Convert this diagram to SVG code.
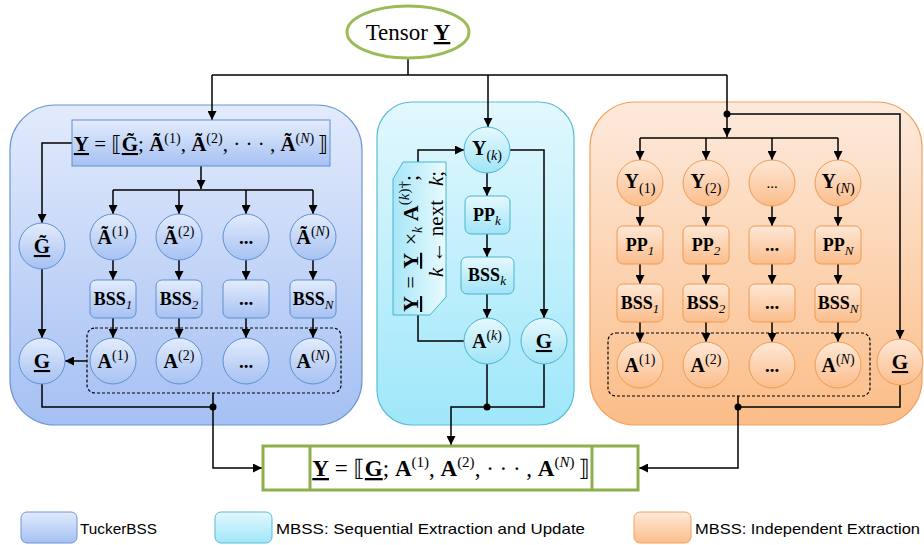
<svg xmlns="http://www.w3.org/2000/svg" width="924" height="545" viewBox="0 0 924 545">
<defs>
<linearGradient id="gTb" x1="0" y1="0" x2="0" y2="1"><stop offset="0" stop-color="#e2ebfc"/><stop offset="1" stop-color="#a5c0f3"/></linearGradient>
<linearGradient id="gTn" x1="0" y1="0" x2="0" y2="1"><stop offset="0" stop-color="#e3ecfc"/><stop offset="1" stop-color="#a6c1f3"/></linearGradient>
<linearGradient id="gCb" x1="0" y1="0" x2="0" y2="1"><stop offset="0" stop-color="#e2f8fe"/><stop offset="1" stop-color="#9fe7fa"/></linearGradient>
<linearGradient id="gCn" x1="0" y1="0" x2="0" y2="1"><stop offset="0" stop-color="#e6f9fe"/><stop offset="1" stop-color="#a0e4f7"/></linearGradient>
<linearGradient id="gCs" x1="0" y1="0" x2="1" y2="0"><stop offset="0" stop-color="#a6e6f8"/><stop offset="1" stop-color="#eafbfe"/></linearGradient>
<linearGradient id="gOb" x1="0" y1="0" x2="0" y2="1"><stop offset="0" stop-color="#fdeadc"/><stop offset="1" stop-color="#fbbd88"/></linearGradient>
<linearGradient id="gOn" x1="0" y1="0" x2="0" y2="1"><stop offset="0" stop-color="#fee8d7"/><stop offset="1" stop-color="#fbbd8b"/></linearGradient>
<marker id="ah" viewBox="0 0 10 10" refX="10" refY="5" markerWidth="9" markerHeight="9" markerUnits="userSpaceOnUse" orient="auto"><path d="M0,0 L10,5 L0,10 z" fill="#000"/></marker>
</defs>
<style>
.ln{fill:none;stroke:#000;stroke-width:1.5}
.ar{marker-end:url(#ah)}
.tn{fill:url(#gTn);stroke:#5f8fd2;stroke-width:1}
.cn{fill:url(#gCn);stroke:#48b4d0;stroke-width:1}
.on{fill:url(#gOn);stroke:#f09a52;stroke-width:1}
.dash{fill:none;stroke:#000;stroke-width:1.2;stroke-dasharray:3,2}
text{font-family:"Liberation Serif","DejaVu Serif",serif;fill:#000}
.t{text-anchor:middle}
.b{font-weight:bold}
.i{font-style:italic}
.u{text-decoration:underline}
.br{font-family:"DejaVu Sans","Noto Sans",sans-serif;font-weight:normal}
.lg{font-family:"Liberation Sans","DejaVu Sans",sans-serif;font-size:15px}
.dot{fill:#000}
</style>
<rect width="924" height="545" fill="#fff"/>

<g id="tucker-region">
<rect x="10" y="105" width="352" height="320" rx="45" fill="url(#gTb)" stroke="#6f96d2" stroke-width="1.2"/>
</g>
<g id="sequential-region">
<rect x="377" y="102" width="197" height="323" rx="35" fill="url(#gCb)" stroke="#5bbbd5" stroke-width="1.2"/>
</g>
<g id="independent-region">
<rect x="590" y="102" width="332" height="323" rx="45" fill="url(#gOb)" stroke="#f5a15c" stroke-width="1.2"/>
</g>

<g id="connectors">
<path class="ln" d="M408,58 V75 M212,75 H727"/>
<path class="ln ar" d="M212,75 V120"/>
<path class="ln ar" d="M488,75 V127"/>
<path class="ln ar" d="M727,75 V137"/>
<path class="ln ar" d="M727,114 H900 V339"/>
<circle class="dot" cx="727" cy="114" r="3.5"/>
<path class="ln ar" d="M72,143 H42 V223"/>
<path class="ln ar" d="M201,166 V189"/>
<path class="ln" d="M113,190 H313"/>
<path class="ln ar" d="M113,190 V214"/>
<path class="ln ar" d="M179,190 V214"/>
<path class="ln ar" d="M246,190 V214"/>
<path class="ln ar" d="M313,190 V214"/>
<path class="ln ar" d="M113,260 V280"/>
<path class="ln ar" d="M179,260 V280"/>
<path class="ln ar" d="M246,260 V280"/>
<path class="ln ar" d="M313,260 V280"/>
<path class="ln ar" d="M113,318 V338"/>
<path class="ln ar" d="M179,318 V338"/>
<path class="ln ar" d="M246,318 V338"/>
<path class="ln ar" d="M313,318 V338"/>
<path class="ln ar" d="M42,269 V338"/>
<path class="ln ar" d="M87,361 H65"/>
<path class="ln" d="M42,384 V407 H213"/>
<path class="ln ar" d="M213,393 V468 H262"/>
<circle class="dot" cx="213" cy="407" r="3.5"/>
<path class="ln ar" d="M487,173 V196"/>
<path class="ln ar" d="M487,234 V257"/>
<path class="ln ar" d="M487,294 V318"/>
<path class="ln ar" d="M510,150 H544 V318"/>
<path class="ln" d="M464,341 H418 V315"/>
<path class="ln ar" d="M418,162 V150 H464"/>
<path class="ln" d="M487,364 V407 M544,364 V407 H487"/>
<path class="ln ar" d="M487,407 H451 V445"/>
<circle class="dot" cx="487" cy="407" r="3.5"/>
<path class="ln" d="M640,138 H838"/>
<path class="ln ar" d="M640,138 V160"/>
<path class="ln ar" d="M706,138 V160"/>
<path class="ln ar" d="M772,138 V160"/>
<path class="ln ar" d="M838,138 V160"/>
<path class="ln ar" d="M640,206 V226"/>
<path class="ln ar" d="M706,206 V226"/>
<path class="ln ar" d="M772,206 V226"/>
<path class="ln ar" d="M838,206 V226"/>
<path class="ln ar" d="M640,264 V284"/>
<path class="ln ar" d="M706,264 V284"/>
<path class="ln ar" d="M772,264 V284"/>
<path class="ln ar" d="M838,264 V284"/>
<path class="ln ar" d="M640,322 V342"/>
<path class="ln ar" d="M706,322 V342"/>
<path class="ln ar" d="M772,322 V342"/>
<path class="ln ar" d="M838,322 V342"/>
<path class="ln" d="M900,385 V407 H738"/>
<path class="ln ar" d="M738,396 V468 H639"/>
<circle class="dot" cx="738" cy="407" r="3.5"/>
</g>

<g id="tensor-Y">
<ellipse cx="408" cy="32" rx="61" ry="26" fill="#fff" stroke="#9bbb59" stroke-width="3"/>
<text class="t" x="408" y="40" font-size="23">Tensor <tspan class="b u">Y</tspan></text>
</g>

<g id="t-formula">
<rect class="tn" x="72" y="120" width="258" height="46"/>
<text class="t" x="201" y="151" font-size="21"><tspan class="b u">Y</tspan><tspan> = </tspan><tspan class="br">⟦</tspan><tspan class="b u">G̃</tspan><tspan>; </tspan><tspan class="b">Ã</tspan><tspan font-size="14" dy="-8">(1)</tspan><tspan dy="8">, </tspan><tspan class="b">Ã</tspan><tspan font-size="14" dy="-8">(2)</tspan><tspan dy="8">, · · · , </tspan><tspan class="b">Ã</tspan><tspan font-size="14" dy="-8">(<tspan class="i">N</tspan>) </tspan><tspan class="br" dy="8">⟧</tspan></text>
</g>
<g id="t-Gtilde"><circle class="tn" cx="42" cy="246" r="23"/><text class="t b u" x="42" y="253" font-size="21">G̃</text></g>
<g id="t-A1t"><circle class="tn" cx="113" cy="237" r="23"/><text class="t" x="113" y="244" font-size="20"><tspan class="b">Ã</tspan><tspan font-size="14" dy="-8">(1)</tspan></text></g>
<g id="t-A2t"><circle class="tn" cx="179" cy="237" r="23"/><text class="t" x="179" y="244" font-size="20"><tspan class="b">Ã</tspan><tspan font-size="14" dy="-8">(2)</tspan></text></g>
<g id="t-Adt"><circle class="tn" cx="246" cy="237" r="23"/><text class="t b" x="246" y="244" font-size="19">...</text></g>
<g id="t-ANt"><circle class="tn" cx="313" cy="237" r="23"/><text class="t" x="313" y="244" font-size="20"><tspan class="b">Ã</tspan><tspan font-size="14" dy="-8">(<tspan class="i">N</tspan>)</tspan></text></g>
<g id="t-BSS1"><rect class="tn" x="90" y="280" width="46" height="38" rx="6"/><text class="t" x="113" y="305" font-size="18"><tspan class="b">BSS</tspan><tspan class="i" font-size="13" dy="4">1</tspan></text></g>
<g id="t-BSS2"><rect class="tn" x="156" y="280" width="46" height="38" rx="6"/><text class="t" x="179" y="305" font-size="18"><tspan class="b">BSS</tspan><tspan class="i" font-size="13" dy="4">2</tspan></text></g>
<g id="t-BSSd"><rect class="tn" x="223" y="280" width="46" height="38" rx="6"/><text class="t b" x="246" y="305" font-size="19">...</text></g>
<g id="t-BSSN"><rect class="tn" x="290" y="280" width="46" height="38" rx="6"/><text class="t" x="313" y="305" font-size="18"><tspan class="b">BSS</tspan><tspan class="i" font-size="13" dy="4">N</tspan></text></g>
<g id="t-Agroup"><rect class="dash" x="87" y="328" width="254" height="65" rx="8"/></g>
<g id="t-A1"><circle class="tn" cx="113" cy="361" r="23"/><text class="t" x="113" y="368" font-size="20"><tspan class="b">A</tspan><tspan font-size="14" dy="-8">(1)</tspan></text></g>
<g id="t-A2"><circle class="tn" cx="179" cy="361" r="23"/><text class="t" x="179" y="368" font-size="20"><tspan class="b">A</tspan><tspan font-size="14" dy="-8">(2)</tspan></text></g>
<g id="t-Ad"><circle class="tn" cx="246" cy="361" r="23"/><text class="t b" x="246" y="368" font-size="19">...</text></g>
<g id="t-AN"><circle class="tn" cx="313" cy="361" r="23"/><text class="t" x="313" y="368" font-size="20"><tspan class="b">A</tspan><tspan font-size="14" dy="-8">(<tspan class="i">N</tspan>)</tspan></text></g>
<g id="t-G"><circle class="tn" cx="42" cy="361" r="23"/><text class="t b u" x="42" y="368" font-size="21">G</text></g>

<g id="m-Yk"><circle class="cn" cx="487" cy="150" r="23"/><text class="t" x="487" y="155" font-size="20"><tspan class="b">Y</tspan><tspan font-size="14" dy="5">(<tspan class="i">k</tspan>)</tspan></text></g>
<g id="m-PPk"><rect class="cn" x="465" y="196" width="45" height="38" rx="6"/><text class="t" x="487" y="221" font-size="18"><tspan class="b">PP</tspan><tspan class="i" font-size="13" dy="4">k</tspan></text></g>
<g id="m-BSSk"><rect class="cn" x="461" y="257" width="53" height="37" rx="6"/><text class="t" x="487" y="281" font-size="18"><tspan class="b">BSS</tspan><tspan class="i" font-size="13" dy="4">k</tspan></text></g>
<g id="m-Ak"><circle class="cn" cx="487" cy="341" r="23"/><text class="t" x="487" y="348" font-size="20"><tspan class="b">A</tspan><tspan font-size="14" dy="-8">(<tspan class="i">k</tspan>)</tspan></text></g>
<g id="m-G"><circle class="cn" cx="544" cy="341" r="23"/><text class="t b u" x="544" y="348" font-size="21">G</text></g>
<g id="m-update">
<polygon points="393,179 403,162 446,162 446,297 430,315 393,315" fill="url(#gCs)" stroke="#48b4d0" stroke-width="1"/>
<text transform="translate(418,312) rotate(-90)" font-size="22"><tspan class="b u">Y</tspan><tspan dx="2"> = </tspan><tspan class="b u" dx="2">Y</tspan><tspan dx="2"> ×</tspan><tspan class="i" font-size="14" dy="4">k</tspan><tspan dy="-4"> </tspan><tspan class="b">A</tspan><tspan font-size="15" dy="-9">(<tspan class="i">k</tspan>)†</tspan><tspan dy="9">;</tspan></text>
<text transform="translate(443,277) rotate(-90)" font-size="21"><tspan class="i">k</tspan><tspan> ← next</tspan><tspan class="i" dx="14">k</tspan><tspan>;</tspan></text>
</g>

<g id="o-Y1"><circle class="on" cx="640" cy="183" r="23"/><text class="t" x="640" y="188" font-size="20"><tspan class="b">Y</tspan><tspan font-size="14" dy="5">(1)</tspan></text></g>
<g id="o-Y2"><circle class="on" cx="706" cy="183" r="23"/><text class="t" x="706" y="188" font-size="20"><tspan class="b">Y</tspan><tspan font-size="14" dy="5">(2)</tspan></text></g>
<g id="o-Yd"><circle class="on" cx="772" cy="183" r="23"/><text class="t" x="772" y="188" font-size="15">...</text></g>
<g id="o-YN"><circle class="on" cx="838" cy="183" r="23"/><text class="t" x="838" y="188" font-size="20"><tspan class="b">Y</tspan><tspan font-size="14" dy="5">(<tspan class="i">N</tspan>)</tspan></text></g>
<g id="o-PP1"><rect class="on" x="617" y="226" width="46" height="38" rx="6"/><text class="t" x="640" y="251" font-size="18"><tspan class="b">PP</tspan><tspan class="i" font-size="13" dy="4">1</tspan></text></g>
<g id="o-PP2"><rect class="on" x="683" y="226" width="46" height="38" rx="6"/><text class="t" x="706" y="251" font-size="18"><tspan class="b">PP</tspan><tspan class="i" font-size="13" dy="4">2</tspan></text></g>
<g id="o-PPd"><rect class="on" x="749" y="226" width="46" height="38" rx="6"/><text class="t b" x="772" y="251" font-size="19">...</text></g>
<g id="o-PPN"><rect class="on" x="815" y="226" width="46" height="38" rx="6"/><text class="t" x="838" y="251" font-size="18"><tspan class="b">PP</tspan><tspan class="i" font-size="13" dy="4">N</tspan></text></g>
<g id="o-BSS1"><rect class="on" x="617" y="284" width="46" height="38" rx="6"/><text class="t" x="640" y="309" font-size="18"><tspan class="b">BSS</tspan><tspan class="i" font-size="13" dy="4">1</tspan></text></g>
<g id="o-BSS2"><rect class="on" x="683" y="284" width="46" height="38" rx="6"/><text class="t" x="706" y="309" font-size="18"><tspan class="b">BSS</tspan><tspan class="i" font-size="13" dy="4">2</tspan></text></g>
<g id="o-BSSd"><rect class="on" x="749" y="284" width="46" height="38" rx="6"/><text class="t b" x="772" y="309" font-size="19">...</text></g>
<g id="o-BSSN"><rect class="on" x="815" y="284" width="46" height="38" rx="6"/><text class="t" x="838" y="309" font-size="18"><tspan class="b">BSS</tspan><tspan class="i" font-size="13" dy="4">N</tspan></text></g>
<g id="o-Agroup"><rect class="dash" x="608" y="333" width="262" height="63" rx="8"/></g>
<g id="o-A1"><circle class="on" cx="640" cy="365" r="23"/><text class="t" x="640" y="372" font-size="20"><tspan class="b">A</tspan><tspan font-size="14" dy="-8">(1)</tspan></text></g>
<g id="o-A2"><circle class="on" cx="706" cy="365" r="23"/><text class="t" x="706" y="372" font-size="20"><tspan class="b">A</tspan><tspan font-size="14" dy="-8">(2)</tspan></text></g>
<g id="o-Ad"><circle class="on" cx="772" cy="365" r="23"/><text class="t b" x="772" y="372" font-size="19">...</text></g>
<g id="o-AN"><circle class="on" cx="838" cy="365" r="23"/><text class="t" x="838" y="372" font-size="20"><tspan class="b">A</tspan><tspan font-size="14" dy="-8">(<tspan class="i">N</tspan>)</tspan></text></g>
<g id="o-G"><circle class="on" cx="900" cy="362" r="23"/><text class="t b u" x="900" y="369" font-size="21">G</text></g>

<g id="result">
<rect x="263" y="446" width="375" height="44" fill="#fff" stroke="#8db04d" stroke-width="3"/>
<path d="M310,446 V490 M592,446 V490" stroke="#8db04d" stroke-width="3"/>
<text class="t" x="451" y="476" font-size="23"><tspan class="b u">Y</tspan><tspan> = </tspan><tspan class="br">⟦</tspan><tspan class="b u">G</tspan><tspan>; </tspan><tspan class="b">A</tspan><tspan font-size="15" dy="-9">(1)</tspan><tspan dy="9">, </tspan><tspan class="b">A</tspan><tspan font-size="15" dy="-9">(2)</tspan><tspan dy="9">, · · · , </tspan><tspan class="b">A</tspan><tspan font-size="15" dy="-9">(<tspan class="i">N</tspan>) </tspan><tspan class="br" dy="9">⟧</tspan></text>
</g>

<g id="legend">
<rect x="21" y="512" width="56" height="31" rx="6" fill="url(#gTb)" stroke="#6f96d2"/>
<text class="lg" x="80" y="534" textLength="77" lengthAdjust="spacingAndGlyphs">TuckerBSS</text>
<rect x="215" y="512" width="57" height="31" rx="6" fill="url(#gCb)" stroke="#5bbbd5"/>
<text class="lg" x="276" y="534" textLength="309" lengthAdjust="spacingAndGlyphs">MBSS: Sequential Extraction and Update</text>
<rect x="634" y="512" width="57" height="31" rx="6" fill="url(#gOb)" stroke="#f5a15c"/>
<text class="lg" x="695" y="534" textLength="225" lengthAdjust="spacingAndGlyphs">MBSS: Independent Extraction</text>
</g>
</svg>
